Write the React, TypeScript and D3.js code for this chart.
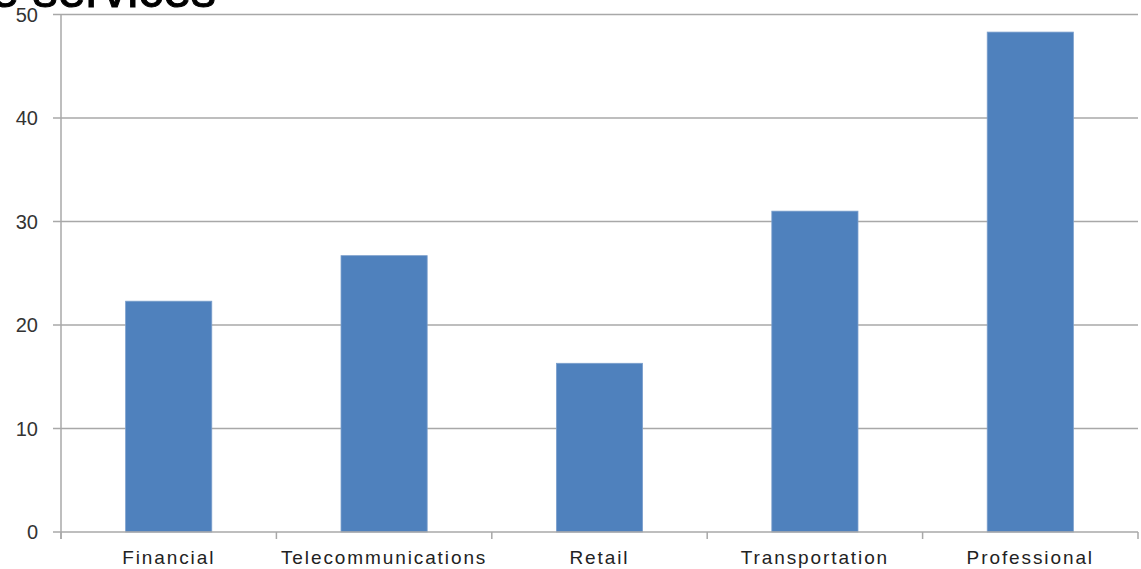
import React from 'react';
import * as d3 from 'd3';

const categories = ['Financial', 'Telecommunications', 'Retail', 'Transportation', 'Professional'];
const values = [22.3, 26.7, 16.3, 31.0, 48.3];
const yTicks = [0, 10, 20, 30, 40, 50];
const titleText = 'e services';

const W = 1141;
const H = 569;

const App: React.FC = () => {
  const left = 61;
  const right = 1138;
  const top = 14.5;
  const bottom = 532;

  const x = d3.scaleBand<string>().domain(categories).range([left, right]).paddingInner(0.6).paddingOuter(0.3);
  const y = d3.scaleLinear().domain([0, 50]).range([bottom, top]);
  const step = x.step();
  const font = '"Liberation Sans", Arial, sans-serif';

  return (
    <div style={{ position: 'fixed', left: 0, top: 0, background: '#fff' }}>
      <svg width={W} height={H} style={{ display: 'block' }}>
        <rect width={W} height={H} fill="#fff" />
        {/* gridlines */}
        {yTicks.filter(t => t > 0).map(t => (
          <line key={t} x1={left - 8} x2={right} y1={y(t)} y2={y(t)} stroke="#a8a8a8" strokeWidth={1.5} />
        ))}
        {/* bars */}
        {categories.map((c, i) => (
          <rect
            key={c}
            x={x(c)}
            y={y(values[i])}
            width={x.bandwidth()}
            height={bottom - y(values[i])}
            fill="#4f81bd"
            stroke="#7b9fcc"
            strokeWidth={0.8}
          />
        ))}
        {/* axes */}
        <line x1={left} x2={left} y1={top} y2={bottom + 7} stroke="#a8a8a8" strokeWidth={1.5} />
        <line x1={left - 8} x2={right} y1={bottom} y2={bottom} stroke="#a8a8a8" strokeWidth={1.5} />
        {yTicks.map(t => (
          <text key={t} x={38} y={y(t)} dy="0.36em" textAnchor="end" fontFamily={font} fontSize={20} fill="#333">
            {t}
          </text>
        ))}
        {/* x ticks */}
        {d3.range(categories.length + 1).map(i => (
          <line key={i} x1={left + i * step} x2={left + i * step} y1={bottom} y2={bottom + 7} stroke="#a8a8a8" strokeWidth={1.5} />
        ))}
        {categories.map(c => (
          <text
            key={c}
            x={(x(c) ?? 0) + x.bandwidth() / 2}
            y={564}
            textAnchor="middle"
            fontFamily={font}
            fontSize={19}
            letterSpacing={1.9}
            fill="#222"
          >
            {c}
          </text>
        ))}
        <text x={-9} y={7} fontFamily={font} fontSize={50} fill="#000" stroke="#000" strokeWidth={1}>
          {titleText}
        </text>
      </svg>
    </div>
  );
};

export default App;
